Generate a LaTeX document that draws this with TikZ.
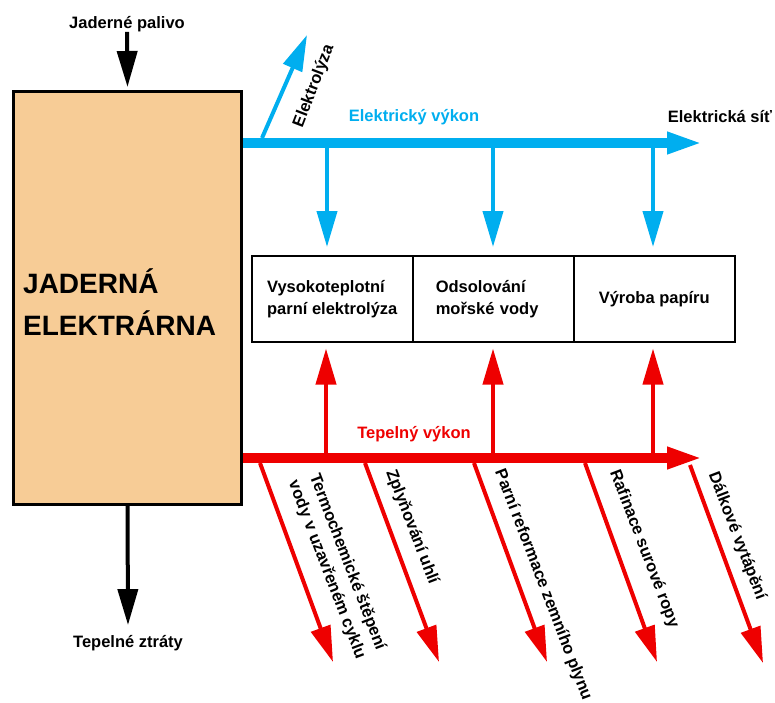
\documentclass[tikz,border=0pt]{standalone}
\usepackage{fontspec}
\setmainfont{Liberation Sans}
\usetikzlibrary{arrows.meta,positioning}
\definecolor{elblue}{RGB}{0,174,239}
\definecolor{heatred}{RGB}{238,0,0}
\definecolor{plantfill}{RGB}{247,204,150}
\tikzset{
  txt/.style={font=\bfseries\fontsize{16.5}{22}\selectfont, inner sep=0pt},
  procbox/.style={draw, line width=1.5pt, minimum width=161pt, minimum height=86pt, anchor=north west, txt, align=left},
  bigtip/.style={-{Triangle[length=36pt, width=20pt]}},
  elbus/.style={bigtip, line width=10pt, elblue},
  heatbus/.style={bigtip, line width=10pt, heatred},
  elarrow/.style={bigtip, line width=4pt, elblue},
  heatarrow/.style={bigtip, line width=4pt, heatred},
  blackarrow/.style={bigtip, line width=4pt, black}
}

\begin{document}
\begin{tikzpicture}[x=1pt, y=-1pt]
        \useasboundingbox (0,0) rectangle (775,702);

        % Power plant and its inputs / losses
        \node[draw, line width=3pt, fill=plantfill, minimum width=228pt, minimum height=413pt, anchor=north west] (plant) at (12,90) {};
        \node[txt, font=\bfseries\fontsize{28}{42}\selectfont, align=left, anchor=west] (plantname) at (23,302) {JADERNÁ\\ELEKTRÁRNA};
        \node[txt] (fuel) at (127,24) {Jaderné palivo};
        \node[txt] (loss) at (128,643) {Tepelné ztráty};
        \draw[blackarrow] (fuel.south) -- ([yshift=3pt]plant.north);
        \draw[blackarrow] (plant.south) -- ([yshift=10pt]loss.north);

        % Consumers between the two buses
        \node[procbox] (hte) at (251,255) {Vysokoteplotní\\parní elektrolýza};
        \node[procbox, inner xsep=23pt, text width=115pt] (desal) at (412,255) {Odsolování\\mořské vody};
        \node[procbox, align=center] (paper) at (573,255) {Výroba papíru};

        % Electric power bus
        \coordinate (elend) at (703,143);
        \coordinate (el1) at (327,143);
        \coordinate (el2) at (493,143);
        \coordinate (el3) at (653,143);
        \coordinate (elyzstart) at (262,138);
        \coordinate (elyzend) at (307,35);
        \draw[elbus] (plant.east |- elend) -- (elend);
        \draw[elarrow] (elyzstart) -- (elyzend);
        \draw[elarrow] (el1) -- ([yshift=8pt]el1 |- hte.north);
        \draw[elarrow] (el2) -- ([yshift=8pt]el2 |- desal.north);
        \draw[elarrow] (el3) -- ([yshift=8pt]el3 |- paper.north);
        \node[txt, elblue] (eltitle) at (414,117) {Elektrický výkon};
        \node[txt] (grid) at (720,117) {Elektrická síť};
        \node[txt, rotate=69] (elyz) at (314,86) {Elektrolýza};

        % Heat bus
        \coordinate (heatend) at (703,458);
        \coordinate (ht1) at (326,458);
        \coordinate (ht2) at (493,458);
        \coordinate (ht3) at (653,458);
        \draw[heatbus] (plant.east |- heatend) -- (heatend);
        \draw[heatarrow] (ht1) -- ([yshift=-6pt]ht1 |- hte.south);
        \draw[heatarrow] (ht2) -- ([yshift=-6pt]ht2 |- desal.south);
        \draw[heatarrow] (ht3) -- ([yshift=-6pt]ht3 |- paper.south);
        \node[txt, heatred] (heattitle) at (414,434) {Tepelný výkon};

        % Heat users below the bus
        \coordinate (d1a) at (260,463); \coordinate (d1b) at (333,662);
        \coordinate (d2a) at (365,463); \coordinate (d2b) at (439,662);
        \coordinate (d3a) at (474,463); \coordinate (d3b) at (547,662);
        \coordinate (d4a) at (585,463); \coordinate (d4b) at (657,662);
        \coordinate (d5a) at (690,465); \coordinate (d5b) at (763,663);
        \draw[heatarrow] (d1a) -- (d1b);
        \draw[heatarrow] (d2a) -- (d2b);
        \draw[heatarrow] (d3a) -- (d3b);
        \draw[heatarrow] (d4a) -- (d4b);
        \draw[heatarrow] (d5a) -- (d5b);
        \node[txt, rotate=-69, align=center] (thermo) at (337,566) {Termochemické štěpení\\vody v uzavřeném cyklu};
        \node[txt, rotate=-69] (gasif) at (412,527) {Zplyňování uhlí};
        \node[txt, rotate=-69] (reform) at (543,585) {Parní reformace zemního plynu};
        \node[txt, rotate=-69] (refin) at (644,549) {Rafinace surové ropy};
        \node[txt, rotate=-69] (district) at (737,536) {Dálkové vytápění};
    \end{tikzpicture}
\end{document}
